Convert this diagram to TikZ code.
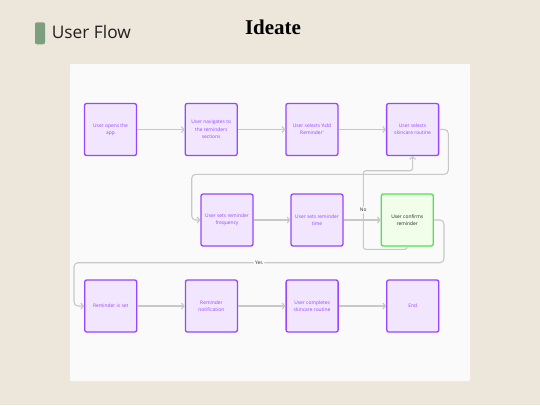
\documentclass[tikz,border=0pt]{standalone}
\usepackage{xcolor}
\usepackage{fontspec}
\usepackage{tikz}
\usetikzlibrary{arrows.meta}
\newfontfamily\uifont{Open Sans}
\newfontfamily\titlefont{Liberation Serif}
\definecolor{fondo}{HTML}{EDE6DB}
\definecolor{panel}{HTML}{FAFAFA}
\definecolor{morado}{HTML}{9747FF}
\definecolor{lila}{HTML}{F2E6FF}
\definecolor{verde}{HTML}{52E052}
\definecolor{verdeclaro}{HTML}{F0FEEA}
\definecolor{linea}{HTML}{C8C8C8}
\definecolor{barra}{HTML}{7E9E80}

\begin{document}
\begin{tikzpicture}[x=1pt,y=-1pt,auto,node distance=100.7pt]
\tikzstyle{stepbox}=[draw=morado,fill=lila,text=morado,line width=1.3pt,rounded corners=2pt,
  minimum size=52pt,inner sep=0pt,align=center,font=\uifont\fontsize{4.9}{7.3}\selectfont]
\tikzstyle{okbox}=[stepbox,draw=verde,fill=verdeclaro,text=black!85]
\tikzstyle{flow}=[draw=linea,line width=1.1pt,rounded corners=4pt,-{Straight Barb[length=2.5pt,width=6pt]}]
\tikzstyle{tag}=[fill=panel,inner sep=1.5pt,text=black!80,font=\uifont\fontsize{4.9}{6}\selectfont]
\useasboundingbox (0,0) rectangle (540,405);
%fondo
\fill[fondo] (0,0) rectangle (540,405);
\fill[panel,rounded corners=1pt] (70,64) rectangle (470,381);
%titulos
\fill[barra,rounded corners=2pt] (35,22.3) rectangle (45,44.3);
\node[anchor=base west,inner sep=0pt,font=\uifont\fontsize{17.3}{20}\selectfont,text=black!88] (flujo) at (51.7,38.3) {User Flow};
\node[anchor=base,inner sep=0pt,font=\titlefont\bfseries\fontsize{21}{24}\selectfont] (idea) at (273,34) {Ideate};
%pasos
\node[stepbox] (open) at (110.5,129.5) {User opens the\\app};
\node[stepbox] (nav) [right of=open] {User navigates to\\the reminders\\sections};
\node[stepbox] (add) [right of=nav] {User selects ‘Add\\Reminder’};
\node[stepbox] (routine) [right of=add] {User selects\\skincare routine};
\node[stepbox] (freq) at (227,220) {User sets reminder\\frequency};
\node[stepbox,node distance=90pt] (time) [right of=freq] {User sets reminder\\time};
\node[okbox,node distance=90.3pt] (confirm) [right of=time] {User confirms\\reminder};
\node[stepbox] (set) at (110.7,306) {Reminder is set};
\node[stepbox] (notif) [right of=set] {Reminder\\notification};
\node[stepbox] (done) [right of=notif] {User completes\\skincare routine};
\node[stepbox] (end) [right of=done] {End};
%puntos de los lazos
\coordinate (loopA) at (448.3,174.3);
\coordinate (loopB) at (191.7,174.3);
\coordinate (noA) at (363.3,249.3);
\coordinate (noB) at (363.3,170.7);
\coordinate (yesA) at (444,262.7);
\coordinate (yesB) at (74,262.7);
%conexiones
\draw[flow] (open) -- (nav);
\draw[flow] (nav) -- (add);
\draw[flow] (add) -- (routine);
\draw[flow] (routine.east) -| (loopA) -- (loopB) |- (freq.west);
\draw[flow] (freq) -- (time);
\draw[flow] (time) -- (confirm);
\draw[flow,rounded corners=2.5pt] (confirm.south) |- (noA) -- node[tag,pos=0.5,anchor=center] {No} (noB) -| (routine.south);
\draw[flow] (confirm.east) -| (yesA) -- node[tag,pos=0.5,anchor=center] {Yes} (yesB) |- (set.west);
\draw[flow] (set) -- (notif);
\draw[flow] (notif) -- (done);
\draw[flow] (done) -- (end);
\end{tikzpicture}
\end{document}
